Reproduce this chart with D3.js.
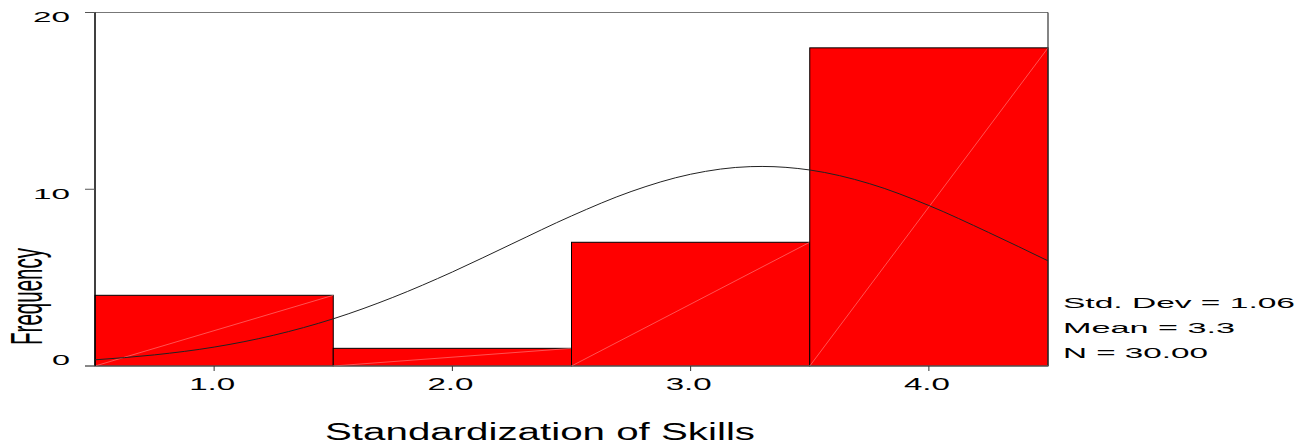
<!DOCTYPE html>
<html>
<head>
<meta charset="utf-8">
<script src="https://cdn.jsdelivr.net/npm/d3@7/dist/d3.min.js"></script>
<style>
html,body{margin:0;padding:0;background:#fff;}
svg{display:block;}
text{font-family:"Liberation Sans",Arial,sans-serif;fill:#000;}
</style>
</head>
<body>
<svg id="chart" width="1309" height="445"></svg>
<script>
// ---- data ----
const binCenters = [1.0, 2.0, 3.0, 4.0];
const binWidth = 1;
const frequencies = [4, 1, 7, 18];
const xTickValues = [1.0, 2.0, 3.0, 4.0];
const xTickLabels = ["1.0", "2.0", "3.0", "4.0"];
const yTickValues = [0, 10, 20];
const yTickLabels = ["0", "10", "20"];
// normal curve (x, frequency)
const curveX = [0.5, 0.75, 1.0, 1.25, 1.5, 1.75, 2.0, 2.25, 2.5, 2.75, 3.0, 3.25, 3.3, 3.5, 3.75, 4.0, 4.25, 4.5];
const curveY = [0.35, 0.63, 1.07, 1.74, 2.67, 3.88, 5.32, 6.91, 8.49, 9.87, 10.85, 11.28, 11.29, 11.09, 10.32, 9.08, 7.56, 5.95];
const statsLines = ["Std. Dev = 1.06", "Mean = 3.3", "N = 30.00"];
const xTitle = "Standardization of Skills";
const yTitle = "Frequency";

// ---- layout ----
const svg = d3.select("#chart");
const x = d3.scaleLinear().domain([0.5, 4.5]).range([95, 1048]);
const y = d3.scaleLinear().domain([0, 20]).range([366, 12.5]);

// bars
const bars = svg.append("g");
binCenters.forEach((c, i) => {
  const x0 = x(c - binWidth / 2), x1 = x(c + binWidth / 2);
  const yt = y(frequencies[i]), yb = y(0);
  bars.append("rect")
    .attr("x", x0).attr("y", yt)
    .attr("width", x1 - x0).attr("height", yb - yt)
    .attr("fill", "#ff0000").attr("stroke", "#000").attr("stroke-width", 1);
  bars.append("line")
    .attr("x1", x0).attr("y1", yb).attr("x2", x1).attr("y2", yt)
    .attr("stroke", "#ff8a8a").attr("stroke-width", 0.6);
});

// frame lines
svg.append("line").attr("x1", 85).attr("x2", x(4.5)).attr("y1", y(20)).attr("y2", y(20))
  .attr("stroke", "#777").attr("stroke-width", 1);
svg.append("line").attr("x1", x(4.5)).attr("x2", x(4.5)).attr("y1", y(20)).attr("y2", y(0))
  .attr("stroke", "#333").attr("stroke-width", 1.2);
svg.append("line").attr("x1", 85).attr("x2", x(4.5)).attr("y1", y(0)).attr("y2", y(0))
  .attr("stroke", "#777").attr("stroke-width", 1);
svg.append("line").attr("x1", x(0.5)).attr("x2", x(0.5)).attr("y1", y(20)).attr("y2", y(0))
  .attr("stroke", "#000").attr("stroke-width", 1.5);

// y ticks
yTickValues.forEach((v, i) => {
  svg.append("line").attr("x1", 85).attr("x2", x(0.5)).attr("y1", y(v)).attr("y2", y(v))
    .attr("stroke", "#555").attr("stroke-width", 1);
  const w = yTickLabels[i].length === 1 ? 18 : 37;
  svg.append("text")
    .attr("x", 70 - w)
    .attr("y", Math.min(y(v) + 9.5, y(0) - 1))
    .attr("font-size", 15.5)
    .attr("textLength", w).attr("lengthAdjust", "spacingAndGlyphs")
    .text(yTickLabels[i]);
});

// x ticks
xTickValues.forEach((v, i) => {
  svg.append("line").attr("x1", x(v)).attr("x2", x(v)).attr("y1", y(0)).attr("y2", y(0) + 5)
    .attr("stroke", "#333").attr("stroke-width", 1);
  svg.append("text")
    .attr("x", x(v) - 2 - 23)
    .attr("y", 390)
    .attr("font-size", 16.5)
    .attr("textLength", 46).attr("lengthAdjust", "spacingAndGlyphs")
    .text(xTickLabels[i]);
});

// normal curve
const line = d3.line().x(d => x(d[0])).y(d => y(d[1])).curve(d3.curveMonotoneX);
svg.append("path")
  .datum(curveX.map((cx, i) => [cx, curveY[i]]))
  .attr("d", line)
  .attr("fill", "none").attr("stroke", "#222").attr("stroke-width", 1);

// stats
const statWidths = [232, 172, 145];
statsLines.forEach((s, i) => {
  svg.append("text")
    .attr("x", 1063).attr("y", 308 + i * 25)
    .attr("font-size", 15.5)
    .attr("textLength", statWidths[i]).attr("lengthAdjust", "spacingAndGlyphs")
    .text(s);
});

// axis titles
svg.append("text")
  .attr("x", 325).attr("y", 440)
  .attr("font-size", 23)
  .attr("textLength", 430).attr("lengthAdjust", "spacingAndGlyphs")
  .text(xTitle);

svg.append("text")
  .attr("transform", "translate(42,345) rotate(-90)")
  .attr("x", 0).attr("y", 0)
  .attr("font-size", 45)
  .attr("textLength", 97).attr("lengthAdjust", "spacingAndGlyphs")
  .text(yTitle);
</script>
</body>
</html>
